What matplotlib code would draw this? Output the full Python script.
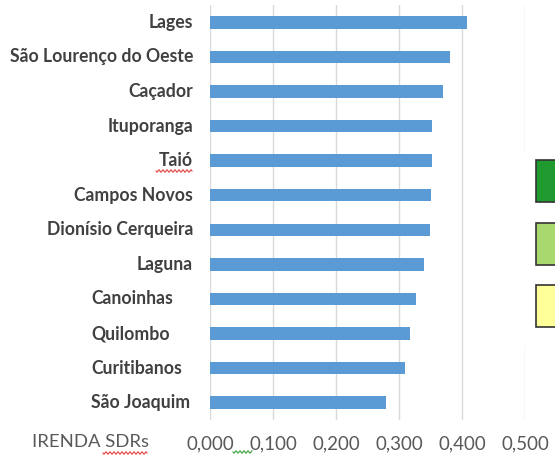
import matplotlib
matplotlib.use("Agg")
import matplotlib.pyplot as plt
from matplotlib.patches import Rectangle
from matplotlib.lines import Line2D
from matplotlib.transforms import blended_transform_factory
import numpy as np

categories = ["Lages", "São Lourenço do Oeste", "Caçador", "Ituporanga", "Taió",
              "Campos Novos", "Dionísio Cerqueira", "Laguna", "Canoinhas",
              "Quilombo", "Curitibanos", "São Joaquim"]
values = [0.408, 0.381, 0.370, 0.352, 0.352, 0.350, 0.349, 0.339, 0.327, 0.318, 0.310, 0.279]
xticks = [0.0, 0.1, 0.2, 0.3, 0.4, 0.5]
xticklabels = ["0,000", "0,100", "0,200", "0,300", "0,400", "0,500"]
axis_title = "IRENDA SDRs"
legend_colors = ["#1f9a2e", "#a9d86e", "#ffff99"]
left_aligned = {"Canoinhas", "Quilombo", "Curitibanos", "São Joaquim"}

plt.rcParams['font.family'] = ['Lato', 'DejaVu Sans']

W, H = 555, 455
fig = plt.figure(figsize=(W/100, H/100), dpi=100)
ax = fig.add_axes([210/W, 1-420/H, 315/W, 415/H])

y = np.arange(len(categories))
ax.barh(y, values, height=0.36, color="#5b9bd5", zorder=3)
ax.set_ylim(len(categories)-0.5, -0.5)
ax.set_xlim(0, 0.5)
ax.set_xticks(xticks)
ax.set_xticklabels(xticklabels, fontsize=13.5, color="#595959")
ax.set_yticks(y)
ax.set_yticklabels([])
ax.tick_params(axis='both', length=0)
ax.tick_params(axis='x', pad=11)
for s in ax.spines.values():
    s.set_visible(False)
ax.grid(axis='x', color="#d9d9d9", linewidth=1, zorder=0)
ax.set_axisbelow(True)

tr = blended_transform_factory(fig.transFigure, ax.transData)
for yi, name in zip(y, categories):
    if name in left_aligned:
        ax.text(91/W, yi, name, transform=tr, ha="left", va="center",
                fontsize=12.7, color="#404040", fontweight="bold")
    else:
        ax.text(193/W, yi, name, transform=tr, ha="right", va="center",
                fontsize=12.7, color="#404040", fontweight="bold")

fig.text(32/W, 1-442/H, axis_title, fontsize=13.3, color="#595959", va="center", ha="left")

def squiggle(x0, x1, yy, color):
    xs = np.linspace(x0, x1, int((x1 - x0) * 1.5) + 2)
    ys = yy + 1.2 * np.sin((xs - x0) / 2.0 * np.pi)
    fig.lines.append(Line2D(xs / W, 1 - ys / H, transform=fig.transFigure,
                            color=color, linewidth=0.8))

squiggle(156, 192, 171, "#e0403a")
squiggle(103, 147, 453, "#e0403a")
squiggle(233, 252, 452, "#3aa03a")

# white region behind legend
fig.patches.append(Rectangle((515/W, 1-346/H), 45/W, 193/H, transform=fig.transFigure,
                             facecolor="white", edgecolor="none", zorder=5))
for i, c in enumerate(legend_colors):
    top = [160, 223, 285][i]
    fig.patches.append(Rectangle((536/W, 1-(top+42)/H), 30/W, 42/H, transform=fig.transFigure,
                                 facecolor=c, edgecolor="#333333", linewidth=1.2, zorder=6))

fig.savefig("out.png", dpi=100)
